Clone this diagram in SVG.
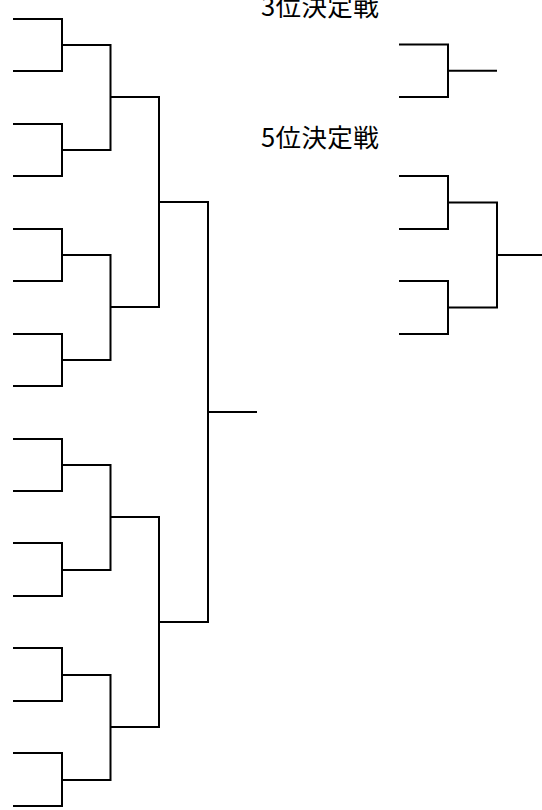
<svg xmlns="http://www.w3.org/2000/svg" width="542" height="810" viewBox="0 0 542 810">
<style>
.ln{fill:none;stroke:#000;stroke-width:2;stroke-linejoin:miter;stroke-linecap:butt}
.lbl{font-family:"Noto Sans CJK JP","Noto Sans",sans-serif;font-size:25.5px;letter-spacing:0.4px;fill:#000}
</style>
<rect width="542" height="810" fill="#fff"/>
<g id="connectors" class="ln">
<g id="main-r1">
<path d="M13,19H62V71H13"/>
<path d="M13,124H62V176H13"/>
<path d="M13,229H62V281H13"/>
<path d="M13,334H62V386H13"/>
<path d="M13,439H62V491H13"/>
<path d="M13,543H62V596H13"/>
<path d="M13,648H62V701H13"/>
<path d="M13,753H62V806H13"/>
</g>
<g id="main-r2">
<path d="M62,45H110.5V150H62"/>
<path d="M62,255H110.5V360H62"/>
<path d="M62,465H110.5V570H62"/>
<path d="M62,675H110.5V780H62"/>
</g>
<g id="main-r3">
<path d="M110.5,97H159V307H110.5"/>
<path d="M110.5,517H159V727H110.5"/>
</g>
<g id="main-final">
<path d="M159,202H208V622H159"/>
<path d="M208,412H257"/>
</g>
<g id="third-place">
<path d="M399,44.5H448V97H399"/>
<path d="M448,70.7H497"/>
</g>
<g id="fifth-place">
<path d="M399,176H448V229H399"/>
<path d="M399,281H448V334H399"/>
<path d="M448,202.5H497V307.5H448"/>
<path d="M497,255H542"/>
</g>
</g>
<g id="labels">
<text id="label-third" class="lbl" x="261" y="16.3">3位決定戦</text>
<text id="label-fifth" class="lbl" x="261" y="146.5">5位決定戦</text>
</g>
</svg>
